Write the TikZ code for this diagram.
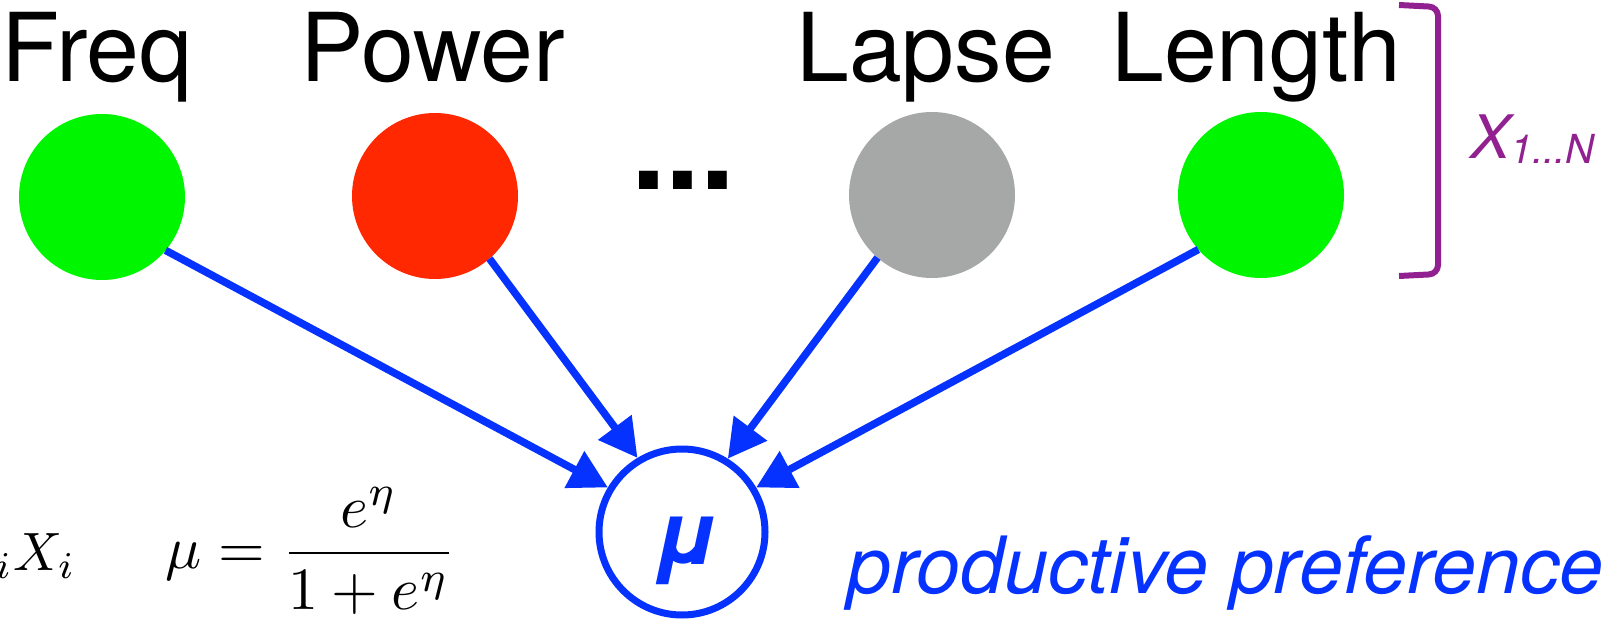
\documentclass[tikz,border=0pt]{standalone}
\usepackage{fontspec}
\setmainfont{TeX Gyre Heros}
\usetikzlibrary{arrows.meta}
\definecolor{cgreen}{RGB}{0,245,0}
\definecolor{cred}{RGB}{255,40,0}
\definecolor{cgray}{RGB}{165,168,166}
\definecolor{cblue}{RGB}{5,50,255}
\definecolor{cpurple}{RGB}{145,32,145}
\tikzset{
  var/.style={circle,minimum size=166pt,inner sep=0pt,outer sep=0pt},
  lbl/.style={anchor=base west,inner sep=0pt,font=\fontsize{95}{100}\selectfont},
  conn/.style={draw=cblue,line width=7.5pt,-{Triangle[length=38pt,width=40pt]}},
}
\begin{document}
\begin{tikzpicture}[x=1pt,y=-1pt]
\useasboundingbox (0,0) rectangle (1614,620);
\clip (0,0) rectangle (1614,620);
% labels
\node[lbl] (tfreq) at (1,82) {Freq};
\node[lbl] (tpower) at (300,82) {Power};
\node[lbl] (tlapse) at (796,82) {Lapse};
\node[lbl] (tlength) at (1111,82) {Length};
\node[anchor=base west,inner sep=0pt,font=\fontsize{125}{130}\selectfont\bfseries] (dots) at (631,190) {...};
% variables
\node[var,fill=cgreen] (freq) at (102,197) {};
\node[var,fill=cred] (power) at (435,196) {};
\node[var,fill=cgray] (lapse) at (932,195) {};
\node[var,fill=cgreen] (length) at (1261,195) {};
% outcome
\node[circle,draw=cblue,fill=white,line width=7pt,minimum size=166pt,inner sep=0pt] (mu) at (682,532) {};
\node[inner sep=0pt,text=cblue,font=\fontsize{88}{90}\selectfont\bfseries\itshape] (mulbl) at (686,551) {μ};
% connectors
\draw[conn] (freq.-40) -- (mu.149);
\draw[conn] (power.-49) -- (mu.121);
\draw[conn] (lapse.229) -- (mu.58.5);
\draw[conn] (length.221) -- (mu.31);
% bracket
\coordinate (bt) at (1399,5);
\coordinate (bb) at (1399,276);
\draw[cpurple,line width=6pt,rounded corners=9pt] (bt) -- (1438,7) -- (1438,274) -- (bb);
\node[anchor=base west,inner sep=0pt,text=cpurple] (xlbl) at (1470,159)
  {{\fontsize{60}{62}\selectfont\itshape X}{\fontsize{40}{42}\selectfont\itshape\raisebox{-5pt}{1...N}}};
% text
\node[anchor=base west,inner sep=0pt,text=cblue,font=\fontsize{79}{85}\selectfont\itshape] (pref) at (847,593) {productive preference};
\node[anchor=base west,inner sep=0pt] (formula) at (165,568) {\scalebox{6}{$\displaystyle \mu = \frac{e^\eta}{1+e^\eta}$}};
\node[anchor=base east,inner sep=0pt] (eta) at (76,570) {\scalebox{5.4}{$\beta_iX_i$}};
\end{tikzpicture}
\end{document}
